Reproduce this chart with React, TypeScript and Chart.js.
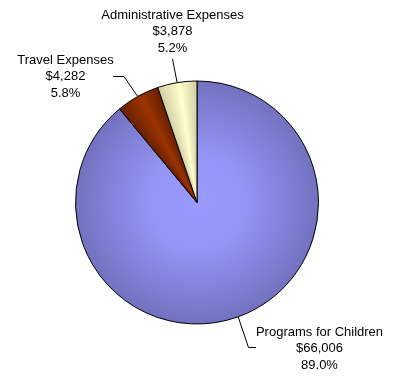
import React, { useEffect, useRef } from "react";
import { Chart, registerables } from "chart.js";

Chart.register(...registerables);

const categories = ["Programs for Children", "Travel Expenses", "Administrative Expenses"];
const amounts = [66006, 4282, 3878];
const amountLabels = ["$66,006", "$4,282", "$3,878"];
const percentLabels = ["89.0%", "5.8%", "5.2%"];

// label layout: elbow point, horizontal end point, text center x, first baseline y
const labelLayout = [
  { elbow: [248.5, 347.5], end: [256, 347.5], tx: 319.5, ty: 335.5 },
  { elbow: [124, 76.5], end: [113, 76.5], tx: 65.5, ty: 63.5 },
  { elbow: [172.5, 59], end: [172.5, 59], tx: 172.5, ty: 18.5 },
];

const total = amounts.reduce((a, b) => a + b, 0);

function sliceAngles(i: number) {
  let before = 0;
  for (let k = 0; k < i; k++) before += amounts[k];
  const start = -Math.PI / 2 + (2 * Math.PI * before) / total;
  const span = (2 * Math.PI * amounts[i]) / total;
  return { start, span };
}

const labelPlugin = {
  id: "pieLabels",
  afterDatasetsDraw(chart: any) {
    const ctx = chart.ctx;
    const meta = chart.getDatasetMeta(0);
    ctx.save();
    ctx.strokeStyle = "#000";
    ctx.lineWidth = 1;
    ctx.fillStyle = "#000";
    ctx.font = '13px "Liberation Sans", Arial, sans-serif';
    ctx.textAlign = "center";
    ctx.textBaseline = "alphabetic";
    meta.data.forEach((arc: any, i: number) => {
      const mid = (arc.startAngle + arc.endAngle) / 2;
      const px = arc.x + Math.cos(mid) * arc.outerRadius;
      const py = arc.y + Math.sin(mid) * arc.outerRadius;
      const L = labelLayout[i];
      ctx.beginPath();
      ctx.moveTo(px, py);
      ctx.lineTo(L.elbow[0], L.elbow[1]);
      ctx.lineTo(L.end[0], L.end[1]);
      ctx.stroke();
      const lines = [categories[i], amountLabels[i], percentLabels[i]];
      lines.forEach((t, j) => ctx.fillText(t, L.tx, L.ty + j * 16.8));
    });
    ctx.restore();
  },
};

function makeFill(c: any) {
  const chart = c.chart;
  const area = chart.chartArea;
  const fallback = ["#8a8ae6", "#842b00", "#ecebc0"][c.dataIndex];
  if (!area) return fallback;
  const g = chart.ctx;
  const cx = (area.left + area.right) / 2;
  const cy = (area.top + area.bottom) / 2;
  const r = 121.5;
  if (c.dataIndex === 0) {
    const rg = g.createRadialGradient(cx, cy, 0, cx, cy, r);
    rg.addColorStop(0, "#9a9aff");
    rg.addColorStop(0.4, "#9494f6");
    rg.addColorStop(1, "#7272c0");
    return rg;
  }
  if (typeof g.createConicGradient !== "function") return fallback;
  const { start, span } = sliceAngles(c.dataIndex);
  const frac = span / (2 * Math.PI);
  const cg = g.createConicGradient(start, cx, cy);
  const dark = c.dataIndex === 1 ? "#6a2000" : "#d2cfa6";
  const light = c.dataIndex === 1 ? "#9a3300" : "#ffffcc";
  cg.addColorStop(0, dark);
  cg.addColorStop(frac * 0.55, light);
  cg.addColorStop(frac, dark);
  cg.addColorStop(1, dark);
  return cg;
}

export default function App() {
  const ref = useRef<HTMLCanvasElement>(null);
  useEffect(() => {
    if (!ref.current) return;
    const chart = new Chart(ref.current, {
      type: "pie",
      data: {
        labels: categories,
        datasets: [
          {
            data: amounts,
            backgroundColor: makeFill as any,
            borderColor: "#000",
            borderWidth: 1,
            hoverOffset: 0,
          },
        ],
      },
      options: {
        responsive: false,
        animation: false,
        radius: 121.5,
        layout: { padding: { left: 70, right: 76, top: 75, bottom: 50 } },
        plugins: { legend: { display: false }, tooltip: { enabled: false } },
        events: [],
      } as any,
      plugins: [labelPlugin],
    });
    return () => chart.destroy();
  }, []);
  return (
    <div style={{ position: "absolute", left: 0, top: 0, width: 400, height: 380, background: "#fff" }}>
      <canvas ref={ref} width={400} height={380} style={{ display: "block" }} />
    </div>
  );
}
